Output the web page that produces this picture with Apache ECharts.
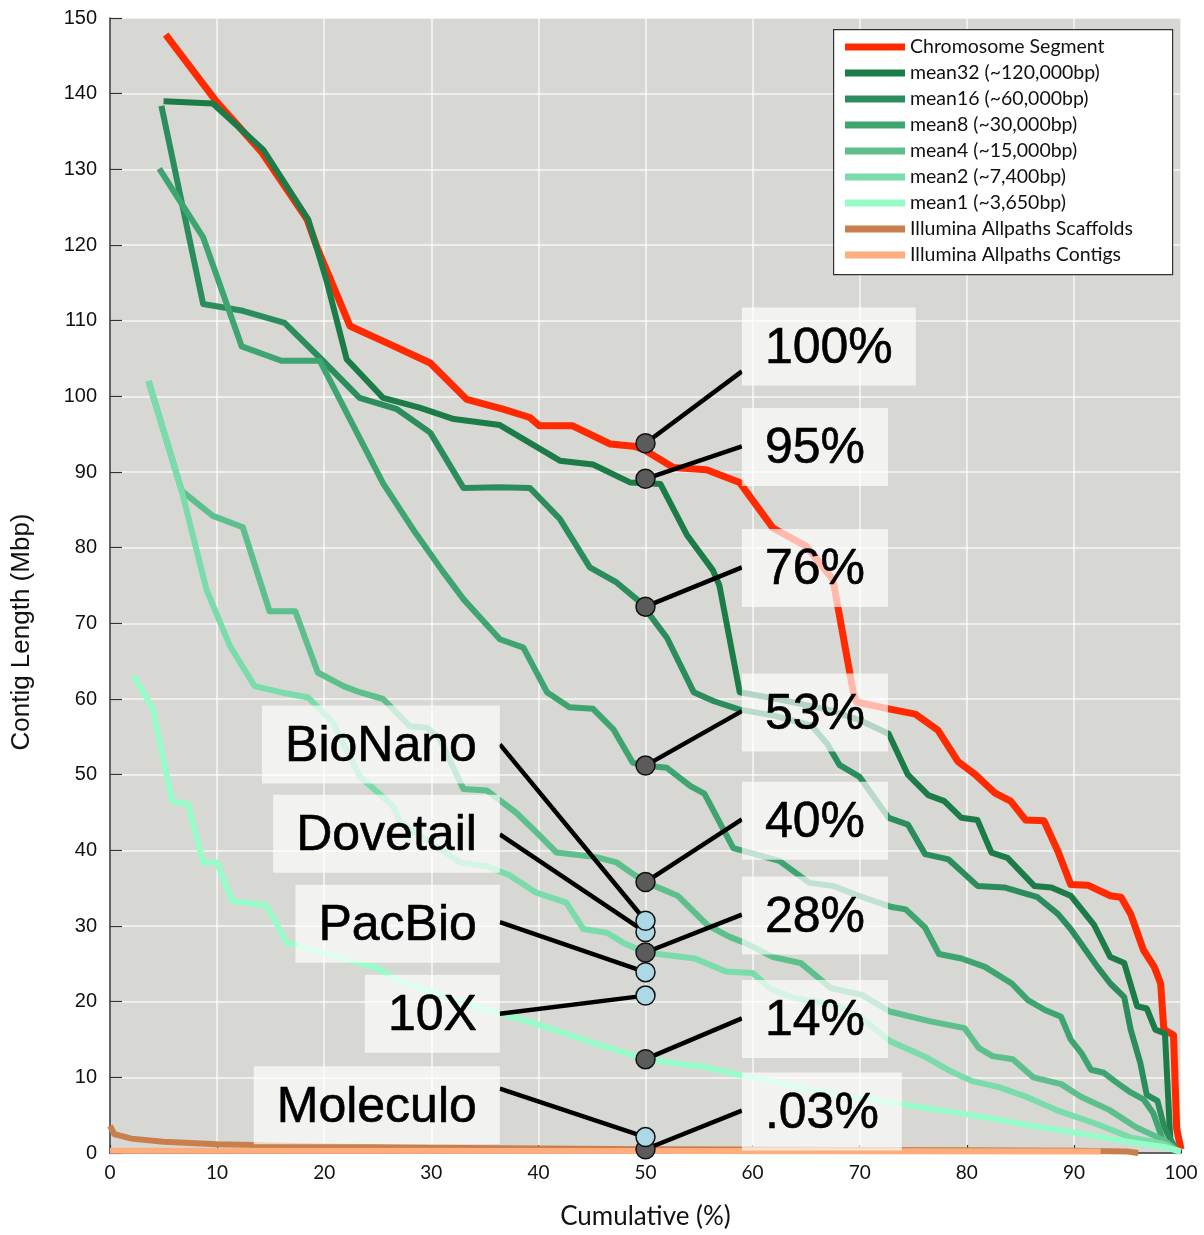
<!DOCTYPE html>
<html><head><meta charset="utf-8">
<script src="https://cdn.jsdelivr.net/npm/echarts@6/dist/echarts.min.js"></script>
<style>html,body{margin:0;padding:0;background:#fff}#c{width:1204px;height:1235px}</style>
</head><body><div id="c"></div>
<script>
// ---- data (x = cumulative %, y = contig length in Mbp) ----
const seriesNames = ['Chromosome Segment','mean32 (~120,000bp)','mean16 (~60,000bp)','mean8 (~30,000bp)','mean4 (~15,000bp)','mean2 (~7,400bp)','mean1 (~3,650bp)','Illumina Allpaths Scaffolds','Illumina Allpaths Contigs'];

const chromosomeSegment = [[5.2,147.8],[9.8,139.2],[14.2,132.2],[18.4,123.4],[19.3,119.8],[22.4,109.3],[26.1,106.9],[29.9,104.4],[33.3,99.6],[36.7,98.3],[39.2,97.2],[40.1,96.1],[43.2,96.1],[46.7,93.7],[48.9,93.4],[49.8,93.0],[52.6,90.6],[55.7,90.3],[58.8,88.6],[61.9,82.6],[65.0,80.2],[67.5,75.8],[69.4,60.9],[69.7,59.6],[72.7,58.7],[75.2,58.0],[77.3,55.9],[79.2,51.7],[80.8,50.0],[82.6,47.6],[84.1,46.5],[85.5,44.0],[87.2,43.9],[88.5,39.9],[89.7,35.5],[91.3,35.4],[93.4,34.0],[94.4,33.8],[95.3,31.6],[96.5,26.8],[97.5,24.6],[98.1,22.4],[98.4,16.3],[99.3,15.6],[99.6,3.2],[100,0.5]];

const mean32 = [[5.0,139.0],[9.6,138.7],[14.3,132.6],[18.5,123.4],[20.2,115.4],[22.1,104.9],[25.5,99.8],[28.9,98.5],[32.1,97.0],[36.4,96.2],[42.0,91.5],[45.1,91.0],[48.6,88.6],[51.4,88.4],[53.9,81.6],[56.3,77.0],[56.9,75.0],[58.8,60.9],[63,59.8],[67,58.6],[70,57.2],[72.7,55.4],[74.5,50.0],[76.4,47.3],[77.9,46.5],[79.5,44.3],[81.0,44.0],[82.3,39.7],[83.8,39.0],[86.3,35.3],[87.9,35.1],[89.7,34.0],[91.9,30.1],[93.4,25.9],[94.7,25.1],[95.9,19.4],[96.8,19.1],[97.6,16.3],[98.5,15.8],[99.0,1.8],[99.5,0.5]];

const mean16 = [[4.8,138.4],[8.7,112.2],[12.4,111.3],[16.3,109.7],[19.6,105.1],[23.3,99.8],[26.8,98.3],[29.9,95.2],[33.0,87.9],[36.4,88.0],[39.2,87.9],[42.0,83.8],[44.8,77.4],[47.3,75.4],[49.5,72.8],[52.0,68.1],[54.5,60.9],[56.4,59.7],[58.8,58.6],[62,57.8],[65.5,56.5],[67,54],[68.1,51.3],[70.0,49.7],[72.7,44.3],[74.5,43.4],[76.1,39.5],[78.3,38.8],[81.0,35.3],[83.5,35.1],[86.6,33.8],[88.5,31.6],[89.7,29.6],[92.2,24.6],[93.4,22.4],[94.7,20.6],[95.3,16.3],[96.2,11.9],[96.8,7.7],[97.8,6.9],[98.4,3.6],[99.5,0.3]];

const mean8 = [[4.6,130.1],[8.7,121.0],[12.3,106.6],[16.0,104.7],[19.6,104.7],[22.4,97.0],[25.5,88.5],[28.5,82.0],[31,77.0],[33.0,73.2],[36.4,67.9],[38.6,66.8],[40.8,60.9],[42.9,58.9],[45.1,58.7],[47.0,56.0],[48.8,51.6],[49.8,51.2],[52.0,50.9],[54.2,48.5],[55.5,47.5],[58.2,40.3],[62.5,38.6],[65.3,35.7],[67.5,35.3],[69.9,34.0],[73.0,32.5],[74.3,32.2],[76.1,29.8],[77.4,26.3],[79.5,25.7],[81.7,24.6],[84.2,22.4],[85.7,20.2],[87.3,18.9],[88.8,18.0],[89.7,15.0],[90.7,13.2],[91.6,11.0],[92.8,10.6],[94.0,9.3],[95.3,8.0],[96.5,7.1],[97.4,5.3],[98.4,1.4],[99.5,0.2]];

const mean4 = [[3.6,102.0],[6.7,87.5],[9.6,84.2],[12.4,82.7],[14.9,71.6],[17.3,71.6],[19.4,63.5],[21.8,61.7],[23.3,60.9],[25.5,60.0],[28.0,56.4],[29.6,56.2],[30.8,54.7],[33.0,48.1],[35.2,47.9],[37.9,45.0],[39.8,42.4],[41.7,39.7],[45.4,39.1],[47.3,38.4],[48.6,37.1],[50.0,35.8],[53.0,34.0],[55.8,30.1],[57.8,28.6],[59.4,27.7],[61.9,25.9],[64.5,25.1],[67.3,21.8],[70.2,20.9],[72.8,18.7],[76.6,17.4],[79.8,16.5],[81.1,13.9],[82.4,12.8],[84.3,12.4],[86.2,10.0],[88.8,9.1],[90.7,7.4],[93.3,5.7],[95.8,3.4],[98.4,1.7],[99.8,0.2]];

const mean2 = [[3.6,102.0],[6.7,87.5],[9.0,74.5],[11.2,67.0],[13.5,61.7],[15.9,60.9],[18.5,60.2],[20.8,56.9],[23.3,49.8],[26.4,45.9],[27.1,43.7],[29.0,41.9],[32.7,38.4],[35.2,37.9],[37.3,36.7],[39.8,34.4],[42.6,33.1],[44.2,29.6],[46.4,29.1],[47.9,27.8],[50.0,26.5],[54.6,25.7],[57.5,24.0],[60.0,23.8],[61.6,21.8],[63.8,20.5],[67.7,19.6],[70.2,17.8],[72.8,14.8],[76.0,12.8],[78.5,10.8],[80.5,9.5],[83.0,8.7],[85.6,7.4],[88.5,5.6],[92.0,3.9],[95.2,2.1],[98.4,1.2],[99.8,0.1]];

const mean1 = [[2.2,63.1],[4.0,58.7],[5.8,46.5],[7.3,46.1],[8.7,38.4],[10.0,38.4],[11.4,33.3],[14.6,32.7],[16.5,27.8],[18.5,27.0],[20.9,26.1],[25.2,24.3],[27.1,22.6],[30,21.3],[33,19.8],[36.4,18.5],[39,17.4],[42.3,15.9],[45,14.6],[48.9,12.9],[50.0,12.4],[53.6,11.7],[55.1,11.5],[58.2,10.5],[60,10.0],[64.5,8.6],[69.6,7.3],[72.4,6.8],[75,6.2],[79.5,5.2],[83,4.4],[86,3.6],[88.8,3.0],[92.1,2.2],[95,1.5],[98.4,0.8],[100,0.2]];

const scaffolds = [[0,3.6],[0.4,2.5],[2,1.9],[5,1.5],[10,1.15],[20,0.85],[30,0.7],[40,0.6],[50,0.5],[60,0.45],[70,0.4],[80,0.35],[90,0.3],[95,0.2],[96,0]];
const contigs = [[0,0.3],[50,0.25],[92.5,0.2]];

const seriesData = [chromosomeSegment, mean32, mean16, mean8, mean4, mean2, mean1, scaffolds, contigs];
const seriesColors = ['#ff2a00','#1b7c48','#2a8d5b','#3ea570','#5cbf8c','#7adcaa','#98fcc9','#c97f4c','#fdae7c'];

// ---- annotations ----
const markerX = 50;
const rightLabels = ['100%','95%','76%','53%','40%','28%','14%','.03%'];
const rightMarkerValues = [93.8, 89.1, 72.2, 51.2, 35.8, 26.5, 12.4, 0.5];
const rightBoxX = 59.0;
const rightBoxValues = [106.6, 93.3, 77.3, 58.2, 43.9, 31.4, 17.7, 5.5];
const rightLinkEnds = [103.3, 93.4, 77.4, 58.4, 44.1, 31.5, 17.8, 5.6];

const leftLabels = ['BioNano','Dovetail','PacBio','10X','Moleculo'];
const leftMarkerValues = [30.7, 29.2, 23.9, 20.8, 2.1];
const leftBoxX = 36.4;
const leftBoxValues = [54.0, 42.2, 30.3, 18.4, 6.3];
const leftLinkStarts = [54.0, 42.1, 30.5, 18.4, 8.5];

const chart = echarts.init(document.getElementById('c'), null, {renderer:'canvas'});

const lineSeries = seriesNames.map((n,i)=>({
  name:n, type:'line', data:seriesData[i], symbol:'none', showSymbol:false,
  clip: i < 7,
  lineStyle:{color:seriesColors[i], width: i===0?7:6, join:'round'},
  itemStyle:{color:seriesColors[i]},
  z: 2 + i*0.01, animation:false
}));

const links = [];
rightLabels.forEach((l,i)=>links.push({coords:[[markerX,rightMarkerValues[i]],[rightBoxX,rightLinkEnds[i]]]}));
leftLabels.forEach((l,i)=>links.push({coords:[[leftBoxX,leftLinkStarts[i]],[markerX,leftMarkerValues[i]]]}));

const boxLabel = {
  show:true, distance:0, formatter:'{t|{b}}', opacity:1,
  backgroundColor:'rgba(255,255,255,0.68)', padding:[14,23,14,23],
  rich:{t:{
    fontFamily:'"Liberation Sans", Arial, sans-serif', fontSize:50, lineHeight:50, color:'#000',
    textBorderWidth:0.6, textBorderColor:'#000', padding:[5,0,0,0]
  }}
};

const option = {
  animation:false,
  backgroundColor:'#fff',
  grid:{left:110, right:23, top:18, bottom:81, show:true, backgroundColor:'#d7d7d3', borderWidth:0},
  xAxis:{type:'value', min:0, max:100, interval:10,
    name:'Cumulative (%)', nameLocation:'middle', nameGap:51,
    nameTextStyle:{fontFamily:'Lato', fontSize:26, color:'#111'},
    axisLine:{show:true, lineStyle:{color:'#333', width:1.5}},
    axisTick:{show:true, inside:true, length:8, lineStyle:{color:'#333', width:1.2}},
    axisLabel:{fontFamily:'Lato', fontSize:19, color:'#111', margin:10},
    splitLine:{show:true, lineStyle:{color:'rgba(255,255,255,0.8)', width:1.5}}},
  yAxis:{type:'value', min:0, max:150, interval:10,
    axisLine:{show:true, lineStyle:{color:'#333', width:1.5}},
    axisTick:{show:true, inside:true, length:12, lineStyle:{color:'#333', width:1.2}},
    axisLabel:{fontFamily:'"Liberation Sans", Arial', fontSize:20, color:'#111', margin:13},
    splitLine:{show:true, lineStyle:{color:'rgba(255,255,255,0.8)', width:1.5}}},
  legend:{
    orient:'vertical', left:845, top:37, padding:0, itemGap:6, z:20,
    itemWidth:60, itemHeight:7, icon:'rect',
    data:seriesNames,
    textStyle:{fontFamily:'Lato', fontSize:19.5, lineHeight:18, color:'#111'}
  },
  graphic:{elements:[
    {type:'rect', left:833, top:29, z:15, shape:{width:339, height:245}, style:{fill:'#fff', stroke:'#333', lineWidth:1.2}},
    {type:'text', x:22, y:632, rotation:Math.PI/2, z:15, style:{text:'Contig Length (Mbp)', font:'26px "Liberation Sans", Arial', textAlign:'center', textVerticalAlign:'middle', fill:'#111'}}
  ]},
  series: lineSeries.concat([
    {type:'lines', coordinateSystem:'cartesian2d', polyline:false, z:6, animation:false,
     lineStyle:{color:'#000', width:4.5, opacity:1}, data:links},
    {type:'scatter', z:7, symbolSize:19, animation:false,
     itemStyle:{color:'#5b5b5b', borderColor:'#111', borderWidth:1.5, opacity:1},
     data: rightMarkerValues.map(v=>[markerX,v])},
    {type:'scatter', z:8, symbolSize:19, animation:false,
     itemStyle:{color:'#add8e6', borderColor:'#111', borderWidth:1.5, opacity:1},
     data: leftMarkerValues.map(v=>[markerX,v]).reverse()},
    {type:'scatter', z:9, symbolSize:0, animation:false, silent:true,
     itemStyle:{opacity:1},
     label:Object.assign({position:'right'}, boxLabel),
     data: rightLabels.map((l,i)=>({name:l, value:[rightBoxX, rightBoxValues[i]]}))},
    {type:'scatter', z:9, symbolSize:0, animation:false, silent:true,
     itemStyle:{opacity:1},
     label:Object.assign({position:'left'}, boxLabel),
     data: leftLabels.map((l,i)=>({name:l, value:[leftBoxX, leftBoxValues[i]]}))}
  ])
};
chart.setOption(option);
</script></body></html>
